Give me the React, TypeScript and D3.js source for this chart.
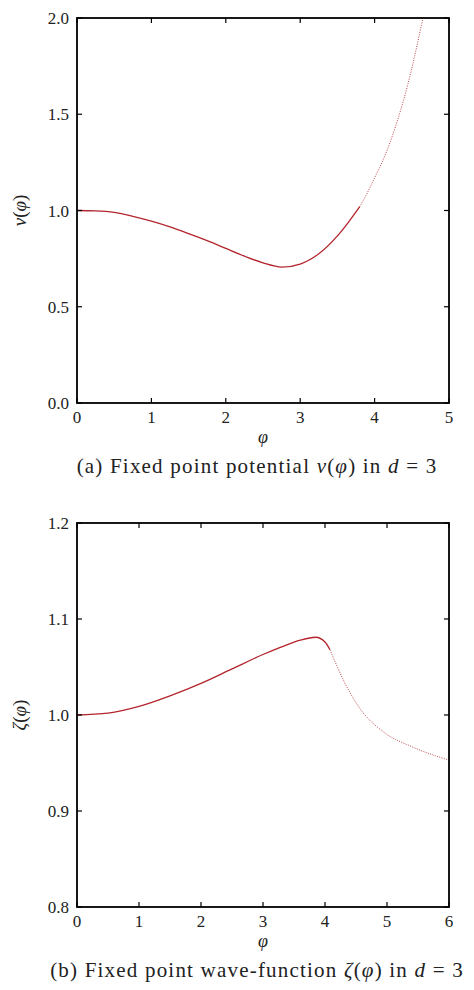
import React from 'react';
import * as d3 from 'd3';

// panel (a): fixed point potential v(phi)
const vSolidPhi = [0, 0.25, 0.5, 0.75, 1.0, 1.25, 1.5, 1.75, 2.0, 2.25, 2.5, 2.75, 3.0, 3.25, 3.5, 3.65, 3.8];
const vSolidVal = [1.0, 0.998, 0.99, 0.97, 0.945, 0.915, 0.88, 0.843, 0.803, 0.763, 0.728, 0.706, 0.722, 0.775, 0.868, 0.94, 1.02];
const vDotPhi = [3.8, 3.9, 4.0, 4.1, 4.25, 4.45, 4.65];
const vDotVal = [1.02, 1.09, 1.17, 1.25, 1.4, 1.66, 2.0];

// panel (b): fixed point wave-function zeta(phi)
const zSolidPhi = [0, 0.5, 1.0, 1.5, 2.0, 2.5, 3.0, 3.3, 3.6, 3.85, 4.0, 4.08];
const zSolidVal = [1.0, 1.002, 1.009, 1.02, 1.033, 1.048, 1.063, 1.071, 1.078, 1.081, 1.076, 1.068];
const zDotPhi = [4.08, 4.2, 4.3, 4.55, 4.95, 5.4, 6.0];
const zDotVal = [1.068, 1.05, 1.036, 1.008, 0.982, 0.967, 0.953];

const vXTicks = [0, 1, 2, 3, 4, 5];
const vYTicks = [0.0, 0.5, 1.0, 1.5, 2.0];
const zXTicks = [0, 1, 2, 3, 4, 5, 6];
const zYTicks = [0.8, 0.9, 1.0, 1.1, 1.2];

const SERIF = "'Liberation Serif', 'Times New Roman', serif";
const RED = '#b3242c';

type PanelProps = {
  top: number;
  bottom: number;
  xDomain: [number, number];
  yDomain: [number, number];
  xTicks: number[];
  yTicks: number[];
  solid: [number[], number[]];
  dotted: [number[], number[]];
  yName: string;
  captionPre: string;
  captionFn: string;
};

const LEFT = 77;
const RIGHT = 449;

function Panel(p: PanelProps) {
  const x = d3.scaleLinear().domain(p.xDomain).range([LEFT, RIGHT]);
  const y = d3.scaleLinear().domain(p.yDomain).range([p.bottom, p.top]);
  const line = d3.line<[number, number]>()
    .x(d => x(d[0]))
    .y(d => y(d[1]))
    .curve(d3.curveMonotoneX);
  const pts = (a: [number[], number[]]) => a[0].map((v, i) => [v, a[1][i]] as [number, number]);
  const tl = 5;
  const midY = (p.top + p.bottom) / 2;
  const txt = { fontFamily: SERIF, fill: '#222' };
  return (
    <g>
      <defs>
        <clipPath id={`clip${p.top}`}>
          <rect x={LEFT} y={p.top} width={RIGHT - LEFT} height={p.bottom - p.top} />
        </clipPath>
      </defs>
      <g clipPath={`url(#clip${p.top})`}>
        <path d={line(pts(p.solid)) || ''} fill="none" stroke={RED} strokeWidth={1.3} />
        <path d={line(pts(p.dotted)) || ''} fill="none" stroke={RED} strokeWidth={1} strokeDasharray="1 1.4" opacity={0.85} />
      </g>
      {p.xTicks.map(t => (
        <g key={'x' + t}>
          <line x1={x(t)} x2={x(t)} y1={p.bottom} y2={p.bottom - tl} stroke="#000" strokeWidth={1.2} />
          <line x1={x(t)} x2={x(t)} y1={p.top} y2={p.top + tl} stroke="#000" strokeWidth={1.2} />
          <text x={x(t)} y={p.bottom + 20} textAnchor="middle" style={{ ...txt, fontSize: 17 }}>{t}</text>
        </g>
      ))}
      {p.yTicks.map(t => (
        <g key={'y' + t}>
          <line x1={LEFT} x2={LEFT + tl} y1={y(t)} y2={y(t)} stroke="#000" strokeWidth={1.2} />
          <line x1={RIGHT} x2={RIGHT - tl} y1={y(t)} y2={y(t)} stroke="#000" strokeWidth={1.2} />
          <text x={LEFT - 8} y={y(t) + 6} textAnchor="end" style={{ ...txt, fontSize: 17 }}>{t.toFixed(1)}</text>
        </g>
      ))}
      <rect x={LEFT} y={p.top} width={RIGHT - LEFT} height={p.bottom - p.top} fill="none" stroke="#000" strokeWidth={1.8} />
      <text x={(LEFT + RIGHT) / 2} y={p.bottom + 40} textAnchor="middle" style={{ ...txt, fontSize: 18, fontStyle: 'italic' }}>φ</text>
      <text transform={`translate(26,${midY}) rotate(-90)`} textAnchor="middle" style={{ ...txt, fontSize: 19 }}>
        <tspan fontStyle="italic">{p.yName}</tspan>(<tspan fontStyle="italic">φ</tspan>)
      </text>
      <text x={257} y={p.bottom + 70} textAnchor="middle" style={{ ...txt, fontSize: 21, letterSpacing: 1.2 }}>
        {p.captionPre}
        <tspan fontStyle="italic">{p.captionFn}</tspan>(<tspan fontStyle="italic">φ</tspan>) in <tspan fontStyle="italic">d</tspan> = 3
      </text>
    </g>
  );
}

export default function App() {
  return (
    <svg width={474} height={990} style={{ position: 'absolute', left: 0, top: 0, background: '#fff' }}>
      <rect width={474} height={990} fill="#fff" />
      <Panel
        top={18} bottom={403}
        xDomain={[0, 5]} yDomain={[0, 2]}
        xTicks={vXTicks} yTicks={vYTicks}
        solid={[vSolidPhi, vSolidVal]} dotted={[vDotPhi, vDotVal]}
        yName="v" captionPre="(a) Fixed point potential " captionFn="v"
      />
      <Panel
        top={523} bottom={907}
        xDomain={[0, 6]} yDomain={[0.8, 1.2]}
        xTicks={zXTicks} yTicks={zYTicks}
        solid={[zSolidPhi, zSolidVal]} dotted={[zDotPhi, zDotVal]}
        yName="ζ" captionPre="(b) Fixed point wave-function " captionFn="ζ"
      />
    </svg>
  );
}
